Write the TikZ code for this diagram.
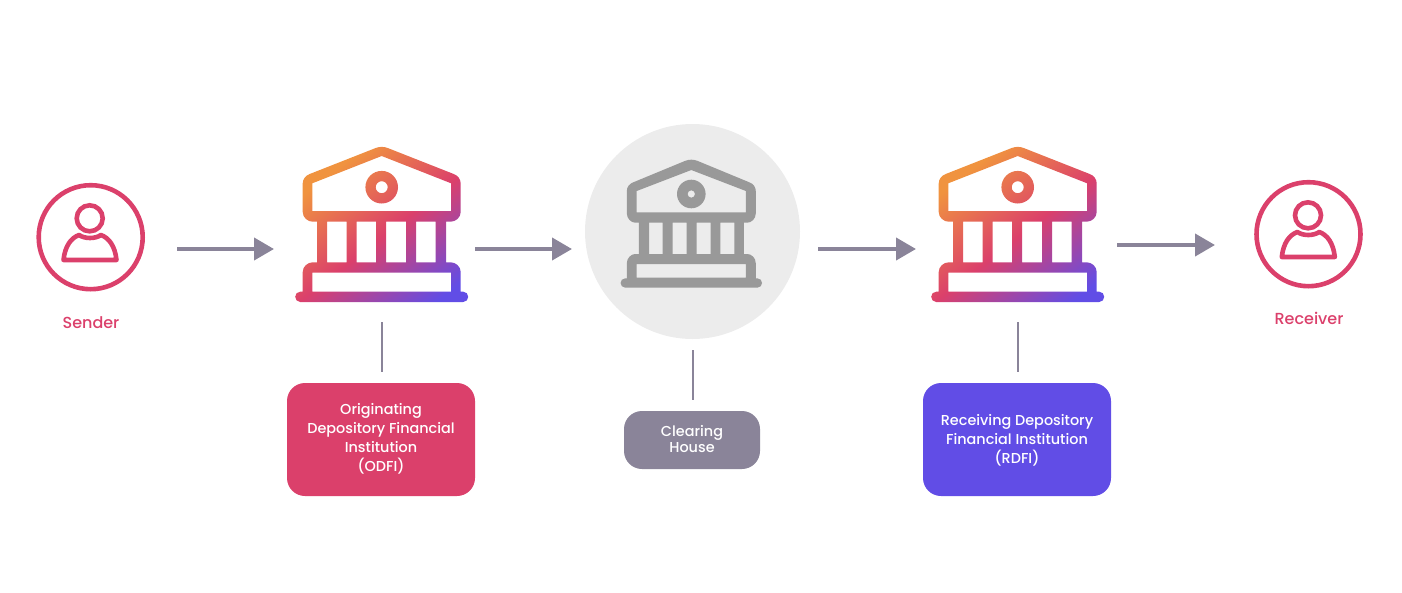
\documentclass[tikz,border=0pt]{standalone}
\usepackage{fontspec}
\setmainfont{Poppins}[UprightFont=* Medium]
\usepackage{tikz}
\usetikzlibrary{arrows.meta}

\definecolor{rosered}{HTML}{DB406B}
\definecolor{slategrey}{HTML}{8A8499}
\definecolor{violetblue}{HTML}{614DE6}
\definecolor{iconorange}{HTML}{F0933F}
\definecolor{icongrey}{HTML}{999999}
\definecolor{discgrey}{HTML}{ECECEC}

\pgfdeclarehorizontalshading{bankgrad}{100bp}{color(0bp)=(iconorange); color(28bp)=(iconorange); color(53bp)=(rosered); color(79bp)=(violetblue); color(100bp)=(violetblue)}

\tikzset{
  flow/.style = {draw=slategrey, line width=4pt, -{Triangle[length=20pt,width=22pt]}},
  stem/.style = {draw=slategrey, line width=2pt},
  infobox/.style = {rounded corners=18pt, inner sep=0pt},
  infotext/.style = {text=white, align=center, font=\fontsize{14.4}{19}\selectfont, inner sep=0pt},
  person/.style = {draw=rosered, circle, line width=4.6pt, minimum size=104pt, inner sep=0pt},
  caption/.style = {text=rosered, font=\fontsize{16}{18}\selectfont},
  bank/.pic = {
    \shade[shading=bankgrad, shading angle=-52, even odd rule]
      (-81.5,155.5) .. controls (-84.5,155.5) and (-86.5,153) .. (-86.5,150.3) .. controls (-86.5,147.5) and (-84.5,145.2) .. (-81.5,145.2)
      -- (-79,145.2) -- (-79,125.5) .. controls (-79,120) and (-74,115.8) .. (-69,115.8) -- (-64.5,115.8) -- (-64.5,75.2)
      -- (-69,75.2) .. controls (-74,75.2) and (-79,71) .. (-79,65.5) -- (-79,37) .. controls (-79,32.5) and (-76,29) .. (-72,27.5)
      -- (-6,1.5) .. controls (-2,0) and (2,0) .. (6,1.5)
      -- (72,27.5) .. controls (76,29) and (79,32.5) .. (79,37) -- (79,65.5) .. controls (79,71) and (74,75.2) .. (69,75.2)
      -- (64.5,75.2) -- (64.5,115.8) -- (69,115.8) .. controls (74,115.8) and (79,120) .. (79,125.5) -- (79,145.2)
      -- (81.5,145.2) .. controls (84.5,145.2) and (86.5,147.5) .. (86.5,150.3) .. controls (86.5,153) and (84.5,155.5) .. (81.5,155.5) -- cycle
      (-69.4,36.8) -- (0,9.5) -- (69.4,36.8) -- (69.4,64.5) -- (-69.4,64.5) -- cycle
      (-54.5,75.2) rectangle (-35,115.8)
      (-25,75.2) rectangle (-5.5,115.8)
      (4.5,75.2) rectangle (24.5,115.8)
      (34.5,75.2) rectangle (54,115.8)
      (-69.4,126.2) rectangle (69.4,145.2)
      (0,40.7) circle (16.3) (0,40.7) circle (6);
  }
}

\begin{document}
\begin{tikzpicture}[x=1pt, y=-1pt]
\useasboundingbox (0,0) rectangle (1402,592);
\node[person] (sender) at (90.7,237.2) {};
\node[person] (receiver) at (1308.5,234.2) {};
\node[caption] (senderlabel) at (91,322.5) {Sender};
\node[caption] (receiverlabel) at (1309,318.5) {Receiver};
% figure inside the two circles
\draw[rosered, line width=4.6pt] (89.7,218.3) circle (13);
\draw[rosered, line width=4.6pt, line join=round] (63.5,260) .. controls (65,246) and (71,238) .. (79,235) .. controls (85,239) and (95,239) .. (101,235) .. controls (109,238) and (115,246) .. (116.5,260) -- cycle;
\draw[rosered, line width=4.6pt] (1308,215.3) circle (13);
\draw[rosered, line width=4.6pt, line join=round] (1281.8,257) .. controls (1283.3,243) and (1289.3,235) .. (1297.3,232) .. controls (1303.3,236) and (1313.3,236) .. (1319.3,232) .. controls (1327.3,235) and (1333.3,243) .. (1334.8,257) -- cycle;

\pic (odfibank) at (381.7,146.5) {bank};
\pic (rdfibank) at (1017.7,146.5) {bank};

\node[circle, fill=discgrey, minimum size=215pt, inner sep=0pt] (clearingdisc) at (692.5,231.5) {};
\begin{scope}[shift={(691.3,159.3)}]
\fill[icongrey, even odd rule]
  (-66,128.4) .. controls (-69,128.4) and (-70.7,126) .. (-70.7,123.7) .. controls (-70.7,121.3) and (-69,119) .. (-66,119)
  -- (-64.5,119) -- (-64.5,104) .. controls (-64.5,98.5) and (-60,94.7) .. (-56,94.7) -- (-52.5,94.7) -- (-52.5,63.4)
  -- (-56,63.4) .. controls (-60,63.4) and (-64.5,59.5) .. (-64.5,54) -- (-64.5,32) .. controls (-64.5,27.5) and (-62,24.5) .. (-58,23)
  -- (-6,1.5) .. controls (-2,0) and (2,0) .. (6,1.5)
  -- (58,23) .. controls (62,24.5) and (64.5,27.5) .. (64.5,32) -- (64.5,54) .. controls (64.5,59.5) and (60,63.4) .. (56,63.4)
  -- (52.5,63.4) -- (52.5,94.7) -- (56,94.7) .. controls (60,94.7) and (64.5,98.5) .. (64.5,104) -- (64.5,119)
  -- (66,119) .. controls (69,119) and (70.7,121.3) .. (70.7,123.7) .. controls (70.7,126) and (69,128.4) .. (66,128.4) -- cycle
  (-54.6,31.7) -- (0,10.7) -- (54.6,31.7) -- (54.6,53) -- (-54.6,53) -- cycle
  (-42.3,63.4) rectangle (-28.6,94.7)
  (-18.6,63.4) rectangle (-4.6,94.7)
  (5.4,63.4) rectangle (19.4,94.7)
  (29,63.4) rectangle (43,94.7)
  (-54.6,104.7) rectangle (54.6,118.4)
  (0,34.7) circle (14.3) (0,34.7) circle (3.7);
\end{scope}

\node[infobox, fill=rosered, minimum width=188pt, minimum height=113pt] (odfi) at (381,439.5) {};
\node[infotext] (odfitext) at (381,439.2) {Originating\\Depository Financial\\Institution\\(ODFI)};
\node[infobox, fill=slategrey, minimum width=136pt, minimum height=58pt] (clearing) at (692,440) {};
\node[infotext, font=\fontsize{14.4}{16}\selectfont] (clearingtext) at (692,439) {Clearing\\House};
\node[infobox, fill=violetblue, minimum width=188pt, minimum height=113pt] (rdfi) at (1017,439.5) {};
\node[infotext] (rdfitext) at (1017,440.5) {Receiving Depository\\Financial Institution\\(RDFI)};

\coordinate (odfitop) at (381.5,322);
\coordinate (clearingtop) at (693,350);
\coordinate (rdfitop) at (1018,322);
\draw[stem] (odfitop) -- (odfitop |- 0,372);
\draw[stem] (clearingtop) -- (clearingtop |- 0,400);
\draw[stem] (rdfitop) -- (rdfitop |- 0,372);

\coordinate (flowa) at (177,249);
\coordinate (flowb) at (274,249);
\coordinate (flowc) at (475,249);
\coordinate (flowd) at (572,249);
\coordinate (flowe) at (818,249);
\coordinate (flowf) at (916,249);
\coordinate (flowg) at (1117,245);
\coordinate (flowh) at (1215,245);
\draw[flow] (flowa) -- (flowb);
\draw[flow] (flowc) -- (flowd);
\draw[flow] (flowe) -- (flowf);
\draw[flow] (flowg) -- (flowh);
\end{tikzpicture}
\end{document}
